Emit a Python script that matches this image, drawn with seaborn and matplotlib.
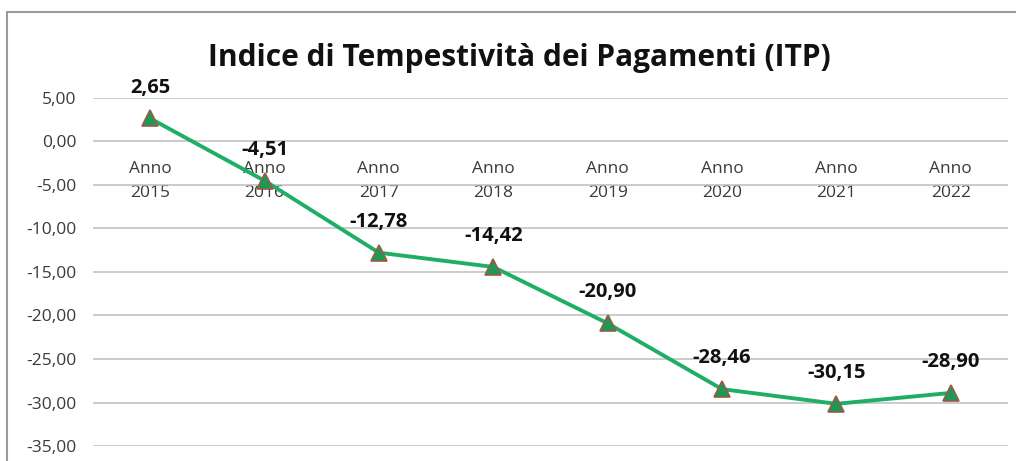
import pandas as pd
import matplotlib
matplotlib.use('Agg')
import matplotlib.pyplot as plt
import seaborn as sns
from matplotlib.patches import Rectangle
from matplotlib.ticker import FuncFormatter

# Valori
anni = ['2015', '2016', '2017', '2018', '2019', '2020', '2021', '2022']
itp = [2.65, -4.51, -12.78, -14.42, -20.90, -28.46, -30.15, -28.90]
y_ticks = [5, 0, -5, -10, -15, -20, -25, -30, -35]

df = pd.DataFrame({'anno': ['Anno\n' + a for a in anni], 'itp': itp})

sns.set_style('white')
plt.rcParams['font.family'] = ['Open Sans', 'DejaVu Sans']

fig = plt.figure(figsize=(10.16, 4.61), dpi=100)
ax = fig.add_axes([0.0915, 0.0325, 0.9005, 0.755])

sns.lineplot(data=df, x='anno', y='itp', ax=ax, color='#1fae66', linewidth=2.8,
             marker='^', markersize=11, markerfacecolor='#1c9a55',
             markeredgecolor='#9a5a4a', markeredgewidth=1.2, sort=False)

ax.set_ylim(-35, 5)
ax.set_xlim(-0.5, len(anni) - 0.5)
ax.set_yticks(y_ticks)
ax.yaxis.set_major_formatter(FuncFormatter(lambda v, p: f'{v:.2f}'.replace('.', ',')))
ax.grid(axis='y', color='#bdbdbd', linewidth=1.1)
ax.set_axisbelow(True)
for s in ['top', 'right', 'left']:
    ax.spines[s].set_visible(False)
ax.spines['bottom'].set_position(('data', 0))
ax.spines['bottom'].set_visible(False)
ax.tick_params(axis='both', length=0, labelsize=12.5, colors='#3a3a3a')
ax.tick_params(axis='x', pad=14)
ax.tick_params(axis='y', pad=12)
for lab in ax.get_xticklabels():
    lab.set_linespacing(1.7)
ax.set_xlabel('')
ax.set_ylabel('')

for i, v in enumerate(itp):
    ax.annotate(f'{v:.2f}'.replace('.', ','), (i, v), xytext=(0, 15),
                textcoords='offset points', ha='center', va='bottom',
                fontsize=14.5, fontweight='bold', color='#111111')

fig.text(0.511, 0.875, 'Indice di Tempestività dei Pagamenti (ITP)', ha='center',
         va='center', fontsize=21.5, fontweight='bold', color='#111111')

fig.patches.append(Rectangle((7 / 1016, -0.1), 1.2, (461 - 12) / 461 + 0.1,
                             transform=fig.transFigure, fill=False,
                             edgecolor='#9a9a9a', linewidth=1.5))

fig.savefig('out.png', dpi=100)
